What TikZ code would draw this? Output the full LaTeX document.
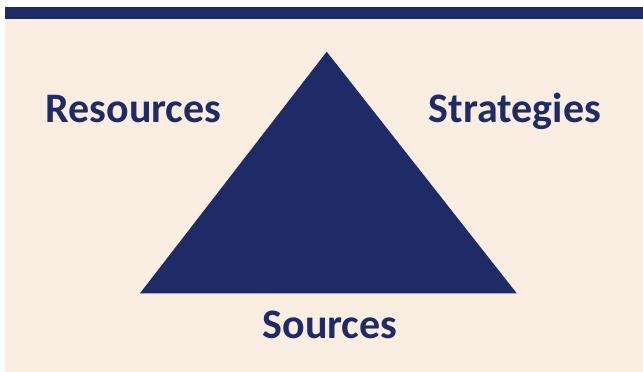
\documentclass[tikz,border=0pt]{standalone}
\usepackage{fontspec}
\setmainfont{Carlito}
\definecolor{navy}{HTML}{1F2B66}
\definecolor{panel}{HTML}{FAEDE2}
\begin{document}
\begin{tikzpicture}[x=1pt,y=-1pt,
  label text/.style={font=\fontsize{42}{48}\selectfont\bfseries, text=navy, inner sep=0pt, anchor=base}]
  \useasboundingbox (0,0) rectangle (643,372);
  \fill[white] (0,0) rectangle (643,372);
  % panel and header bar
  \fill[panel] (5,19) rectangle (643,372);
  \fill[navy] (5,7) rectangle (643,19);
  % central triangle
  \coordinate (apex) at (326.7,51.7);
  \coordinate (bl) at (140,293.3);
  \coordinate (br) at (516.7,293.3);
  \fill[navy] (apex) -- (br) -- (bl) -- cycle;
  % corner labels
  \node[label text] (resources) at (133.5,122.5) {Resources};
  \node[label text] (strategies) at (515,122.5) {Strategies};
  \node[label text] (sources) at (330,338.3) {Sources};
\end{tikzpicture}
\end{document}
